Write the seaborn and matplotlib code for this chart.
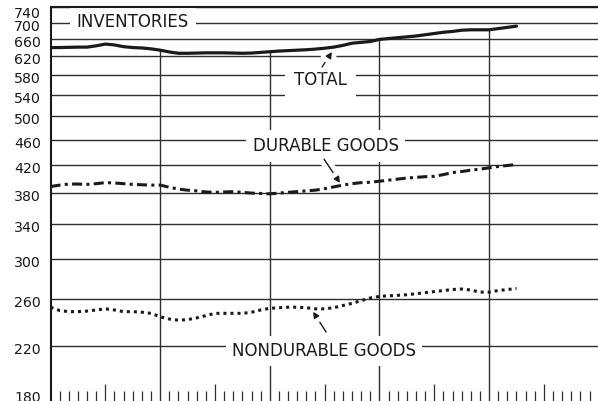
import matplotlib
matplotlib.use("Agg")
from matplotlib import pyplot as plt
import matplotlib.patheffects as pe
from matplotlib.transforms import ScaledTranslation
from matplotlib.ticker import FixedLocator, NullLocator, NullFormatter
import pandas as pd
import seaborn as sns

# === Data (monthly) ===
months = list(range(52))
total = [640, 640, 640.5, 641, 641, 644, 648, 646, 642, 640, 639, 637,
         634, 630, 627, 627, 627.5, 628, 628, 628, 627.5, 627, 627.5, 629,
         630.5, 632, 633, 634, 635, 636.5, 638.5, 641, 645, 650, 652, 654,
         659, 661, 663, 665, 667, 670, 673, 676, 678, 681, 682, 682,
         682, 685, 688, 691]
durable = [389, 391, 392.5, 392.5, 392, 393, 394.5, 394, 393, 392, 391.5, 391,
           391, 388, 385.5, 384, 383, 381.5, 381, 381.5, 382, 381, 380, 379.5,
           379, 380, 381, 382, 383, 384, 386, 388.5, 391, 393, 394.5, 395,
           396.5, 398, 399.5, 401, 402, 403, 403.5, 406, 409, 410.5, 412.5, 414,
           416, 418, 419.5, 421]
nondurable = [252.5, 249.5, 248.5, 248.5, 249, 250, 251, 250, 248.5, 248.5, 248, 247,
              244, 242, 241, 241.5, 243, 245, 247, 247, 247, 247, 248, 250,
              251.5, 252, 252.5, 252.5, 252, 251, 251, 252, 254, 256, 258.5, 261,
              262.5, 263, 263.5, 264, 265, 266, 267, 268, 269, 269.5, 268.5, 266.5,
              266.5, 268, 269, 270]
y_ticks = [180, 220, 260, 300, 340, 380, 420, 460, 500, 540, 580, 620, 660, 700, 740]
year_months = [12, 24, 36, 48]
half_year_months = [6, 18, 30, 42, 54]

df = pd.DataFrame({"month": months, "total": total,
                   "durable": durable, "nondurable": nondurable})

ink = "#1a1a1a"
grid_c = "#2e2e2e"

sns.set_style("white")
plt.rcParams["font.family"] = ["DejaVu Sans"]

fig = plt.figure(figsize=(5.98, 4.01), dpi=100)
ax = fig.add_axes([0.0845, -0.0017, 0.9167, 0.9842])
ax.set_yscale("log")

# === Lines ===
sns.lineplot(data=df, x="month", y="total", ax=ax, color=ink, lw=2.3,
             solid_joinstyle="round", zorder=3)
sns.lineplot(data=df, x="month", y="durable", ax=ax, color=ink, lw=2.2,
             linestyle=(0, (3.3, 1.4, 1, 1.4)), dash_capstyle="butt", zorder=3)
sns.lineplot(data=df, x="month", y="nondurable", ax=ax, color=ink, lw=2.2,
             linestyle=(0, (1, 1.3)), dash_capstyle="butt", zorder=3)

ax.set_xlim(0, 60)
ax.set_ylim(180, 740)
ax.set_xlabel("")
ax.set_ylabel("")

# === Axes / grid ===
ax.yaxis.set_major_locator(FixedLocator(y_ticks))
ax.yaxis.set_minor_locator(NullLocator())
ax.yaxis.set_major_formatter(NullFormatter())
ax.yaxis.set_minor_formatter(NullFormatter())
ax.tick_params(axis="y", which="both", length=0)
ax.grid(axis="y", which="major", color=grid_c, lw=1.0)
ax.grid(axis="x", visible=False)
ax.set_axisbelow(True)

# month ticks along the bottom, taller at mid-year
ax.xaxis.set_major_locator(FixedLocator(half_year_months))
ax.xaxis.set_minor_locator(FixedLocator([m for m in range(1, 60) if m % 6 != 0]))
ax.xaxis.set_major_formatter(NullFormatter())
ax.xaxis.set_minor_formatter(NullFormatter())
ax.tick_params(axis="x", which="major", bottom=True, direction="in", length=13,
               width=0.9, color=grid_c, labelbottom=False)
ax.tick_params(axis="x", which="minor", bottom=True, direction="in", length=8,
               width=0.9, color=grid_c, labelbottom=False)

# year gridlines run from the bottom up to the total curve
ax.vlines(year_months, 180, [total[m] for m in year_months], color=grid_c, lw=1.0, zorder=1)

for side in ["right", "bottom"]:
    ax.spines[side].set_visible(False)
for side in ["left", "top"]:
    ax.spines[side].set_color(ink)
    ax.spines[side].set_linewidth(1.5)

# y tick labels as text, nudged like the original
ytrans = ax.get_yaxis_transform()
for v in y_ticks:
    dy = -4
    if v == 740:
        dy = -6.5
    elif v == 180:
        dy = 3.5
    ax.text(0, v, str(v), ha="right", va="center", fontsize=10.2, color=ink,
            transform=ytrans + ScaledTranslation(-9.5 / 100, dy / 100, fig.dpi_scale_trans),
            clip_on=False)

# === Labels and arrows ===
def label(text, x, y, pad=0.3):
    ax.text(x, y, text, ha="center", va="center", fontsize=12, color=ink, zorder=2,
            bbox=dict(boxstyle=f"square,pad={pad}", fc="white", ec="none"))

def arrow(tail, head):
    ann = ax.annotate("", xy=head, xytext=tail, zorder=2,
                      arrowprops=dict(arrowstyle="-|>", color=ink, lw=1,
                                      shrinkA=0, shrinkB=0, mutation_scale=9))
    ann.arrow_patch.set_path_effects([pe.Stroke(linewidth=8, foreground="white"), pe.Normal()])

label("INVENTORIES", 9.0, 702, pad=0.4)
label("TOTAL", 29.55, 569, pad=0.55)
label("DURABLE GOODS", 30.1, 450, pad=0.4)
label("NONDURABLE GOODS", 29.9, 216, pad=0.35)

arrow((29.72, 597), (30.81, 630))
arrow((29.94, 429), (31.69, 394))
arrow((30.16, 231), (28.73, 248.5))

fig.savefig("out.png", dpi=100)
